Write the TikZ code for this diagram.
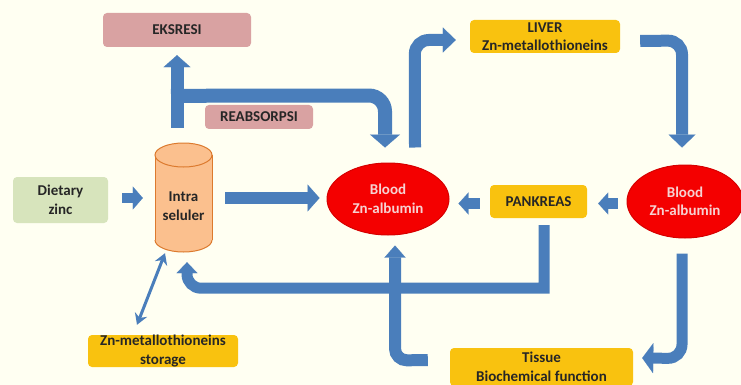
\documentclass[tikz,border=0pt]{standalone}
\usepackage{fontspec}
\setmainfont{Carlito}
\usetikzlibrary{arrows.meta,shapes.geometric,calc}
\definecolor{bg}{HTML}{FFFFF2}
\definecolor{arr}{HTML}{4A7EBB}
\definecolor{gold}{HTML}{F9C20F}
\definecolor{pinkbox}{HTML}{D9A2A2}
\definecolor{greenbox}{HTML}{D7E4BC}
\definecolor{orangefill}{HTML}{FBC08E}
\definecolor{orangeline}{HTML}{DC7A2E}
\definecolor{bloodred}{HTML}{F40000}
\definecolor{bloodline}{HTML}{D60000}
\definecolor{txt}{HTML}{262626}
\definecolor{bloodtxt}{HTML}{F6D2D2}
\begin{document}
\begin{tikzpicture}[x=1pt,y=-1pt,
  lbl/.style={font=\fontsize{15}{18.5}\selectfont\bfseries, align=center, text=txt},
  box/.style={lbl, rectangle, rounded corners=4pt, inner sep=0pt},
  goldbox/.style={box, fill=gold},
  pinkb/.style={box, fill=pinkbox},
  greenb/.style={box, fill=greenbox},
  blood/.style={lbl, ellipse, fill=bloodred, draw=bloodline, line width=1pt, text=bloodtxt, inner sep=0pt},
  fat/.style args={#1/#2/#3}{draw=arr, line width=#1pt, -{Triangle[width=#2pt,length=#3pt,line width=0.1pt]}},
  thin2/.style={draw=arr, line width=3pt, {Stealth[length=11pt,width=13pt]}-{Stealth[length=11pt,width=13pt]}}
]
\fill[bg] (0,0) rectangle (741,385);
\useasboundingbox (0,0) rectangle (741,385);

% nodes
\node[pinkb, minimum width=148pt, minimum height=34pt] (eks) at (177,30) {EKSRESI};
\node[pinkb, minimum width=108pt, minimum height=24pt] (reab) at (259,117) {REABSORPSI};
\node[goldbox, minimum width=150pt, minimum height=33pt] (liver) at (545,36.5) {LIVER\\Zn-metallothioneins};
\node[greenb, minimum width=95pt, minimum height=46pt] (diet) at (60.5,200) {Dietary\\zinc};
\node[blood, minimum width=122pt, minimum height=72pt] (blood1) at (388,199) {Blood\\Zn-albumin};
\node[blood, minimum width=116pt, minimum height=73pt] (blood2) at (685,201.5) {Blood\\Zn-albumin};
\node[goldbox, minimum width=97pt, minimum height=33pt] (pank) at (538.5,201.5) {PANKREAS};
\node[goldbox, minimum width=183pt, minimum height=38pt] (tissue) at (541.5,367) {Tissue\\Biochemical function};
\node[goldbox, minimum width=150pt, minimum height=32pt] (storage) at (163,351) {Zn-metallothioneins\\storage};

% cylinder
\node[minimum width=57pt, minimum height=109pt, inner sep=0pt] (intra) at (183.5,197.5) {};
\fill[orangefill] (155,155) rectangle (212,240);
\fill[orangefill] (183.5,240) ellipse [x radius=28.5pt, y radius=12pt];
\draw[orangeline, line width=1pt] (155,155) -- (155,240) (212,155) -- (212,240);
\begin{scope}
  \clip (150,240) rectangle (220,258);
  \draw[orangeline, line width=1pt] (183.5,240) ellipse [x radius=28.5pt, y radius=12pt];
\end{scope}
\draw[orangeline, fill=orangefill, line width=1pt] (183.5,155) ellipse [x radius=28.5pt, y radius=12pt];
\node[lbl] (intratext) at (intra) [yshift=-8.5pt] {Intra\\seluler};

% connectors
\draw[fat=10/23/10] ($(diet.east)+(14,-2)$) -- ($(intra.west)+(-12,0.5)$);
\draw[fat=12/27/12] ($(intra.east)+(13,0.5)$) -- ($(blood1.west)+(-7,-1)$);
\draw[fat=13/27/12] ($(intra.north)+(-6.5,-15)$) -- ($(eks.south)+(0,8)$);
\draw[fat=14/30/13, rounded corners=16pt] ($(intra.north)+(-12.5,-47)$) -- ($(blood1.north)+(-3,-67)$) -- ($(blood1.north)+(-3,-15)$);
\draw[fat=12/25/13, rounded corners=14pt] ($(blood1.north)+(27,-15)$) -- ($(liver.west)+(-55,3.5)$) -- ($(liver.west)+(-14,3.5)$);
\draw[fat=12/27/13, rounded corners=14pt] ($(liver.east)+(20,4.5)$) -- ($(blood2.north)+(-3,-124)$) -- ($(blood2.north)+(-3,-17)$);
\draw[fat=11/22/10] ($(blood2.west)+(-9,2)$) -- ($(pank.east)+(11,2)$);
\draw[fat=11/22/10] ($(pank.west)+(-10,2)$) -- ($(blood1.east)+(9,4.5)$);
\draw[fat=11/21/11] ($(pank.south)+(5.5,7)$) -- ($(pank.south)+(5.5,70)$) [rounded corners=14pt] -- ($(intra.south)+(3.5,36)$) -- ($(intra.south)+(3.5,10)$);
\draw[fat=12/21/12, rounded corners=12pt] ($(tissue.west)+(-22,-7)$) -- ($(blood1.south)+(7,125)$) -- ($(blood1.south)+(7,10)$);
\draw[fat=11/30/11, rounded corners=14pt] ($(blood2.south)+(-3,15)$) -- ($(blood2.south)+(-3,120)$) -- ($(tissue.east)+(9,-9)$);
\draw[thin2] ($(storage.north)+(-26,-10)$) -- ($(intra.south)+(-18.5,1)$);
\end{tikzpicture}
\end{document}
